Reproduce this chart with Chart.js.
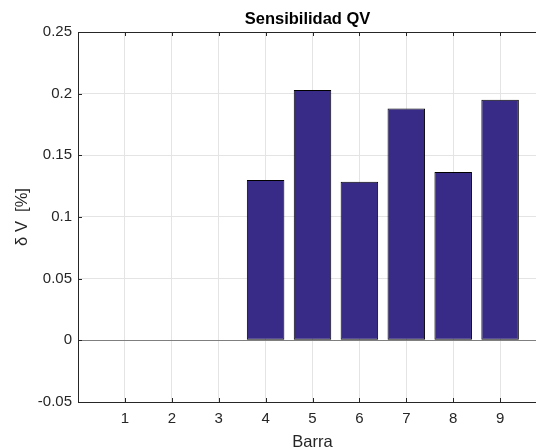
<!DOCTYPE html>
<html>
<head>
<meta charset="utf-8">
<script src="https://cdn.jsdelivr.net/npm/chart.js@4/dist/chart.umd.min.js"></script>
<style>
  html, body { margin: 0; padding: 0; background: #fff; overflow: hidden; }
  #wrap { width: 560px; height: 452px; }
</style>
</head>
<body>
<div id="wrap"><canvas id="chart" width="560" height="452"></canvas></div>
<script>
const barras = [1, 2, 3, 4, 5, 6, 7, 8, 9];
const sensibilidad = [0, 0, 0, 0.130, 0.203, 0.1285, 0.188, 0.1365, 0.195];
const yTicks = [-0.05, 0, 0.05, 0.1, 0.15, 0.2, 0.25];
const xTicks = [1, 2, 3, 4, 5, 6, 7, 8, 9];
const titulo = 'Sensibilidad QV';

const font = "'Liberation Sans', Arial, sans-serif";
const axisColor = '#262626';
const gridColor = '#e4e4e4';

// MATLAB style box, inner ticks and title
const boxPlugin = {
  id: 'box',
  afterDraw(chart) {
    const { ctx, chartArea: a, scales } = chart;
    ctx.save();
    ctx.strokeStyle = axisColor;
    ctx.lineWidth = 1;
    ctx.strokeRect(Math.round(a.left) + 0.5, Math.round(a.top) + 0.5,
      Math.round(a.right - a.left), Math.round(a.bottom - a.top));
    ctx.beginPath();
    xTicks.forEach(v => {
      const x = Math.round(scales.x.getPixelForValue(v)) + 0.5;
      ctx.moveTo(x, a.bottom); ctx.lineTo(x, a.bottom - 4);
      ctx.moveTo(x, a.top); ctx.lineTo(x, a.top + 4);
    });
    yTicks.forEach(v => {
      const y = Math.round(scales.y.getPixelForValue(v)) + 0.5;
      ctx.moveTo(a.left, y); ctx.lineTo(a.left + 4, y);
      ctx.moveTo(a.right, y); ctx.lineTo(a.right - 4, y);
    });
    ctx.stroke();
    ctx.fillStyle = '#000';
    ctx.font = 'bold 16.5px ' + font;
    ctx.textAlign = 'center';
    ctx.textBaseline = 'middle';
    ctx.fillText(titulo, (a.left + a.right) / 2 - 5, 19);
    ctx.restore();
  }
};

function xGrid(c) {
  if (!c.tick) return 'rgba(0,0,0,0)';
  return xTicks.includes(c.tick.value) ? gridColor : 'rgba(0,0,0,0)';
}
function yGrid(c) {
  if (!c.tick) return 'rgba(0,0,0,0)';
  const v = +c.tick.value.toFixed(3);
  if (v === 0) return '#7f7f7f';
  if (v === -0.05 || v === 0.25) return 'rgba(0,0,0,0)';
  return gridColor;
}

new Chart(document.getElementById('chart'), {
  type: 'bar',
  data: {
    datasets: [{
      data: barras.map((b, i) => ({ x: b, y: sensibilidad[i] })),
      backgroundColor: '#372b87',
      borderColor: '#000000',
      borderWidth: 1,
      borderSkipped: false,
      barPercentage: 0.8,
      categoryPercentage: 1
    }]
  },
  options: {
    responsive: false,
    animation: false,
    layout: { padding: { top: 32, right: 13, left: 0, bottom: 0 } },
    plugins: { legend: { display: false }, tooltip: { enabled: false } },
    scales: {
      x: {
        type: 'linear',
        min: 0,
        max: 10,
        offset: false,
        afterFit(s) { s.height = 50; },
        afterBuildTicks(s) { s.ticks = [0].concat(xTicks, [10]).map(v => ({ value: v })); },
        ticks: {
          color: axisColor,
          font: { family: font, size: 15 },
          padding: 8,
          maxRotation: 0,
          autoSkip: false,
          callback: v => (xTicks.includes(v) ? String(v) : '')
        },
        grid: { drawTicks: false, offset: false, color: xGrid },
        border: { display: false },
        title: {
          display: true,
          text: 'Barra',
          color: axisColor,
          font: { family: font, size: 16.5 },
          padding: { top: 0, bottom: 0 }
        }
      },
      y: {
        min: -0.05,
        max: 0.25,
        afterFit(s) { s.width = 78; },
        afterBuildTicks(s) { s.ticks = yTicks.map(v => ({ value: v })); },
        ticks: {
          color: axisColor,
          font: { family: font, size: 15 },
          padding: 6,
          callback: v => String(+v.toFixed(2))
        },
        grid: { drawTicks: false, color: yGrid },
        border: { display: false },
        title: {
          display: true,
          text: 'δ V  [%]',
          color: axisColor,
          font: { family: font, size: 16.5 },
          padding: { top: 12.5, bottom: 0 }
        }
      }
    }
  },
  plugins: [boxPlugin]
});
</script>
</body>
</html>
